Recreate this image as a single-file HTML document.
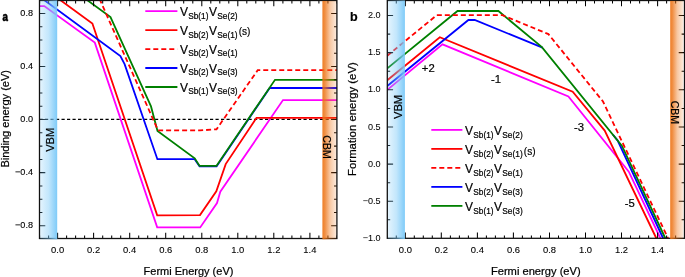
<!DOCTYPE html>
<html><head><meta charset="utf-8"><style>
html,body{margin:0;padding:0;background:#fff;}
svg{display:block;will-change:transform;}
text{font-family:"Liberation Sans",sans-serif;fill:#000;stroke:#000;stroke-width:0.2px;}
</style></head><body>
<svg width="685" height="277" viewBox="0 0 685 277">
<defs>
<linearGradient id="vbm" x1="0" y1="0" x2="1" y2="0">
<stop offset="0" stop-color="#78c8f8" stop-opacity="0.2"/>
<stop offset="0.5" stop-color="#78c8f8" stop-opacity="0.45"/>
<stop offset="0.8" stop-color="#78c8f8" stop-opacity="0.75"/>
<stop offset="1" stop-color="#78c8f8" stop-opacity="0.95"/>
</linearGradient>
<linearGradient id="cbm" x1="0" y1="0" x2="1" y2="0">
<stop offset="0" stop-color="#ed7314" stop-opacity="0.92"/>
<stop offset="0.18" stop-color="#ed7314" stop-opacity="0.8"/>
<stop offset="0.55" stop-color="#ed7314" stop-opacity="0.4"/>
<stop offset="1" stop-color="#ed7314" stop-opacity="0.15"/>
</linearGradient>
<clipPath id="ca"><rect x="39.5" y="0.5" width="297.4" height="238.0"/></clipPath>
<clipPath id="cb"><rect x="387.3" y="0.5" width="297.2" height="237.8"/></clipPath>
</defs>
<rect width="685" height="277" fill="#fff"/>

<g clip-path="url(#ca)">
<line x1="39.5" y1="119.4" x2="336.9" y2="119.4" stroke="#000" stroke-width="1.2" stroke-dasharray="3.2,2.3"/>
<polyline points="39.5,6.1 44.3,6.1 94.8,42.6 157.2,227.4 200.2,227.4 217.0,203.1 220.3,191.7 283.0,100.1 337.0,100.1" fill="none" stroke="#ff00ff" stroke-width="1.8" stroke-linejoin="miter"/>
<polyline points="39.5,-15.1 60.2,0.0 92.4,23.5 157.2,215.3 200.0,215.1 216.3,191.3 225.7,164.1 256.5,117.8 337.0,117.8" fill="none" stroke="#ff0000" stroke-width="1.8" stroke-linejoin="miter"/>
<polyline points="39.5,-3.4 120.4,56.1 124.6,64.2 157.4,159.2 194.7,159.2 199.6,166.4 216.6,166.4 269.7,88.0 337.0,88.0" fill="none" stroke="#0000ff" stroke-width="1.8" stroke-linejoin="miter"/>
<polyline points="47.0,-29.2 110.5,17.1 151.0,106.4 157.5,131.0 194.7,158.3 199.6,165.9 216.4,165.9 275.0,79.8 337.0,79.8" fill="none" stroke="#008000" stroke-width="1.8" stroke-linejoin="miter"/>
<polyline points="80.0,-45.0 100.0,0.0 158.0,130.3 200.0,130.4 216.5,129.3 257.7,70.2 337.0,70.2" fill="none" stroke="#ff0000" stroke-width="1.8" stroke-linejoin="miter" stroke-dasharray="5,3"/>
<path d="M39.6,238.5v-2.9 M39.6,0.5v2.9 M48.6,238.5v-2.9 M48.6,0.5v2.9 M57.6,238.5v-5.8 M57.6,0.5v5.8 M66.6,238.5v-2.9 M66.6,0.5v2.9 M75.6,238.5v-2.9 M75.6,0.5v2.9 M84.6,238.5v-2.9 M84.6,0.5v2.9 M93.6,238.5v-5.8 M93.6,0.5v5.8 M102.7,238.5v-2.9 M102.7,0.5v2.9 M111.7,238.5v-2.9 M111.7,0.5v2.9 M120.7,238.5v-2.9 M120.7,0.5v2.9 M129.7,238.5v-5.8 M129.7,0.5v5.8 M138.7,238.5v-2.9 M138.7,0.5v2.9 M147.7,238.5v-2.9 M147.7,0.5v2.9 M156.7,238.5v-2.9 M156.7,0.5v2.9 M165.7,238.5v-5.8 M165.7,0.5v5.8 M174.7,238.5v-2.9 M174.7,0.5v2.9 M183.7,238.5v-2.9 M183.7,0.5v2.9 M192.8,238.5v-2.9 M192.8,0.5v2.9 M201.8,238.5v-5.8 M201.8,0.5v5.8 M210.8,238.5v-2.9 M210.8,0.5v2.9 M219.8,238.5v-2.9 M219.8,0.5v2.9 M228.8,238.5v-2.9 M228.8,0.5v2.9 M237.8,238.5v-5.8 M237.8,0.5v5.8 M246.8,238.5v-2.9 M246.8,0.5v2.9 M255.8,238.5v-2.9 M255.8,0.5v2.9 M264.8,238.5v-2.9 M264.8,0.5v2.9 M273.8,238.5v-5.8 M273.8,0.5v5.8 M282.9,238.5v-2.9 M282.9,0.5v2.9 M291.9,238.5v-2.9 M291.9,0.5v2.9 M300.9,238.5v-2.9 M300.9,0.5v2.9 M309.9,238.5v-5.8 M309.9,0.5v5.8 M318.9,238.5v-2.9 M318.9,0.5v2.9 M327.9,238.5v-2.9 M327.9,0.5v2.9 M336.9,238.5v-2.9 M336.9,0.5v2.9 M39.5,239.0h2.9 M336.9,239.0h-2.9 M39.5,225.7h5.8 M336.9,225.7h-5.8 M39.5,212.4h2.9 M336.9,212.4h-2.9 M39.5,199.2h2.9 M336.9,199.2h-2.9 M39.5,185.9h2.9 M336.9,185.9h-2.9 M39.5,172.6h5.8 M336.9,172.6h-5.8 M39.5,159.4h2.9 M336.9,159.4h-2.9 M39.5,146.1h2.9 M336.9,146.1h-2.9 M39.5,132.8h2.9 M336.9,132.8h-2.9 M39.5,119.5h5.8 M336.9,119.5h-5.8 M39.5,106.3h2.9 M336.9,106.3h-2.9 M39.5,93.0h2.9 M336.9,93.0h-2.9 M39.5,79.7h2.9 M336.9,79.7h-2.9 M39.5,66.5h5.8 M336.9,66.5h-5.8 M39.5,53.2h2.9 M336.9,53.2h-2.9 M39.5,39.9h2.9 M336.9,39.9h-2.9 M39.5,26.7h2.9 M336.9,26.7h-2.9 M39.5,13.4h5.8 M336.9,13.4h-5.8 M39.5,0.1h2.9 M336.9,0.1h-2.9" stroke="#000" stroke-width="1.05" fill="none"/>
</g>
<g clip-path="url(#cb)">
<polyline points="387.3,89.9 442.5,44.4 568.4,96.4 628.8,171.7 660.3,238.0 670.0,258.0" fill="none" stroke="#ff00ff" stroke-width="1.8" stroke-linejoin="miter"/>
<polyline points="387.3,80.2 439.8,37.2 572.7,91.7 604.7,130.6 656.2,238.0 666.0,258.0" fill="none" stroke="#ff0000" stroke-width="1.8" stroke-linejoin="miter"/>
<polyline points="387.3,86.0 468.4,20.0 474.7,20.0 542.5,47.6" fill="none" stroke="#0000ff" stroke-width="1.8" stroke-linejoin="miter"/>
<polyline points="613.0,134.8 617.7,140.6 663.0,238.0 672.0,258.0" fill="none" stroke="#0000ff" stroke-width="1.8" stroke-linejoin="miter"/>
<polyline points="387.3,68.3 457.5,11.0 498.4,11.0 541.9,47.1 622.0,145.9 665.2,238.0 675.0,258.0" fill="none" stroke="#008000" stroke-width="1.8" stroke-linejoin="miter"/>
<polyline points="387.3,55.7 436.7,15.2 502.4,15.2 548.4,34.1 603.0,101.5 667.9,238.0 678.0,258.0" fill="none" stroke="#ff0000" stroke-width="1.8" stroke-linejoin="miter" stroke-dasharray="5,3"/>
<path d="M387.3,238.3v-2.9 M387.3,0.5v2.9 M396.3,238.3v-2.9 M396.3,0.5v2.9 M405.3,238.3v-5.8 M405.3,0.5v5.8 M414.3,238.3v-2.9 M414.3,0.5v2.9 M423.3,238.3v-2.9 M423.3,0.5v2.9 M432.3,238.3v-2.9 M432.3,0.5v2.9 M441.3,238.3v-5.8 M441.3,0.5v5.8 M450.4,238.3v-2.9 M450.4,0.5v2.9 M459.4,238.3v-2.9 M459.4,0.5v2.9 M468.4,238.3v-2.9 M468.4,0.5v2.9 M477.4,238.3v-5.8 M477.4,0.5v5.8 M486.4,238.3v-2.9 M486.4,0.5v2.9 M495.4,238.3v-2.9 M495.4,0.5v2.9 M504.4,238.3v-2.9 M504.4,0.5v2.9 M513.4,238.3v-5.8 M513.4,0.5v5.8 M522.4,238.3v-2.9 M522.4,0.5v2.9 M531.4,238.3v-2.9 M531.4,0.5v2.9 M540.5,238.3v-2.9 M540.5,0.5v2.9 M549.5,238.3v-5.8 M549.5,0.5v5.8 M558.5,238.3v-2.9 M558.5,0.5v2.9 M567.5,238.3v-2.9 M567.5,0.5v2.9 M576.5,238.3v-2.9 M576.5,0.5v2.9 M585.5,238.3v-5.8 M585.5,0.5v5.8 M594.5,238.3v-2.9 M594.5,0.5v2.9 M603.5,238.3v-2.9 M603.5,0.5v2.9 M612.5,238.3v-2.9 M612.5,0.5v2.9 M621.5,238.3v-5.8 M621.5,0.5v5.8 M630.5,238.3v-2.9 M630.5,0.5v2.9 M639.6,238.3v-2.9 M639.6,0.5v2.9 M648.6,238.3v-2.9 M648.6,0.5v2.9 M657.6,238.3v-5.8 M657.6,0.5v5.8 M666.6,238.3v-2.9 M666.6,0.5v2.9 M675.6,238.3v-2.9 M675.6,0.5v2.9 M684.6,238.3v-2.9 M684.6,0.5v2.9 M387.3,238.4h5.8 M684.5,238.4h-5.8 M387.3,219.8h2.9 M684.5,219.8h-2.9 M387.3,201.2h5.8 M684.5,201.2h-5.8 M387.3,182.7h2.9 M684.5,182.7h-2.9 M387.3,164.1h5.8 M684.5,164.1h-5.8 M387.3,145.5h2.9 M684.5,145.5h-2.9 M387.3,126.9h5.8 M684.5,126.9h-5.8 M387.3,108.4h2.9 M684.5,108.4h-2.9 M387.3,89.8h5.8 M684.5,89.8h-5.8 M387.3,71.2h2.9 M684.5,71.2h-2.9 M387.3,52.6h5.8 M684.5,52.6h-5.8 M387.3,34.1h2.9 M684.5,34.1h-2.9 M387.3,15.5h5.8 M684.5,15.5h-5.8 M387.3,-3.1h2.9 M684.5,-3.1h-2.9" stroke="#000" stroke-width="1.05" fill="none"/>
</g>
<rect x="39.5" y="0.5" width="297.4" height="238.0" fill="none" stroke="#111" stroke-width="1.3"/>
<rect x="387.3" y="0.5" width="297.2" height="237.8" fill="none" stroke="#111" stroke-width="1.3"/>
<rect x="40.1" y="0.4" width="17.1" height="238.9" fill="url(#vbm)"/>
<rect x="322.4" y="0.9" width="13.8" height="238.4" fill="url(#cbm)"/>
<rect x="388.0" y="0.4" width="16.9" height="238.7" fill="url(#vbm)"/>
<rect x="670.2" y="0.9" width="13.0" height="238.2" fill="url(#cbm)"/>
<text x="33" y="15.5" font-size="9.1" text-anchor="end" style="stroke-width:0.12px">0.8</text>
<text x="33" y="68.6" font-size="9.1" text-anchor="end" style="stroke-width:0.12px">0.4</text>
<text x="33" y="121.7" font-size="9.1" text-anchor="end" style="stroke-width:0.12px">0.0</text>
<text x="33" y="174.8" font-size="9.1" text-anchor="end" style="stroke-width:0.12px">−0.4</text>
<text x="33" y="227.9" font-size="9.1" text-anchor="end" style="stroke-width:0.12px">−0.8</text>
<text x="380.6" y="18.1" font-size="9.1" text-anchor="end" style="stroke-width:0.05px">2.0</text>
<text x="380.6" y="55.2" font-size="9.1" text-anchor="end" style="stroke-width:0.05px">1.5</text>
<text x="380.6" y="92.4" font-size="9.1" text-anchor="end" style="stroke-width:0.05px">1.0</text>
<text x="380.6" y="129.5" font-size="9.1" text-anchor="end" style="stroke-width:0.05px">0.5</text>
<text x="380.6" y="166.7" font-size="9.1" text-anchor="end" style="stroke-width:0.05px">0.0</text>
<text x="380.6" y="203.8" font-size="9.1" text-anchor="end" style="stroke-width:0.05px">−0.5</text>
<text x="380.6" y="241.0" font-size="9.1" text-anchor="end" style="stroke-width:0.05px">−1.0</text>
<text x="51.1" y="252.9" font-size="9.8" textLength="13.1" lengthAdjust="spacingAndGlyphs" style="stroke-width:0.1px">0.0</text>
<text x="398.8" y="252.9" font-size="9.8" textLength="13.1" lengthAdjust="spacingAndGlyphs" style="stroke-width:0.1px">0.0</text>
<text x="87.1" y="252.9" font-size="9.8" textLength="13.1" lengthAdjust="spacingAndGlyphs" style="stroke-width:0.1px">0.2</text>
<text x="434.8" y="252.9" font-size="9.8" textLength="13.1" lengthAdjust="spacingAndGlyphs" style="stroke-width:0.1px">0.2</text>
<text x="123.1" y="252.9" font-size="9.8" textLength="13.1" lengthAdjust="spacingAndGlyphs" style="stroke-width:0.1px">0.4</text>
<text x="470.8" y="252.9" font-size="9.8" textLength="13.1" lengthAdjust="spacingAndGlyphs" style="stroke-width:0.1px">0.4</text>
<text x="159.2" y="252.9" font-size="9.8" textLength="13.1" lengthAdjust="spacingAndGlyphs" style="stroke-width:0.1px">0.6</text>
<text x="506.9" y="252.9" font-size="9.8" textLength="13.1" lengthAdjust="spacingAndGlyphs" style="stroke-width:0.1px">0.6</text>
<text x="195.2" y="252.9" font-size="9.8" textLength="13.1" lengthAdjust="spacingAndGlyphs" style="stroke-width:0.1px">0.8</text>
<text x="542.9" y="252.9" font-size="9.8" textLength="13.1" lengthAdjust="spacingAndGlyphs" style="stroke-width:0.1px">0.8</text>
<text x="231.2" y="252.9" font-size="9.8" textLength="13.1" lengthAdjust="spacingAndGlyphs" style="stroke-width:0.1px">1.0</text>
<text x="579.0" y="252.9" font-size="9.8" textLength="13.1" lengthAdjust="spacingAndGlyphs" style="stroke-width:0.1px">1.0</text>
<text x="267.3" y="252.9" font-size="9.8" textLength="13.1" lengthAdjust="spacingAndGlyphs" style="stroke-width:0.1px">1.2</text>
<text x="615.0" y="252.9" font-size="9.8" textLength="13.1" lengthAdjust="spacingAndGlyphs" style="stroke-width:0.1px">1.2</text>
<text x="303.3" y="252.9" font-size="9.8" textLength="13.1" lengthAdjust="spacingAndGlyphs" style="stroke-width:0.1px">1.4</text>
<text x="651.0" y="252.9" font-size="9.8" textLength="13.1" lengthAdjust="spacingAndGlyphs" style="stroke-width:0.1px">1.4</text>
<text x="143.6" y="274.7" font-size="10.3" textLength="89.8" lengthAdjust="spacingAndGlyphs">Fermi Energy (eV)</text>
<text x="490.9" y="274.6" font-size="10.3" textLength="89.8" lengthAdjust="spacingAndGlyphs">Fermi energy (eV)</text>
<text transform="translate(9.0,167.6) rotate(-90)" font-size="10.3" textLength="97.6" lengthAdjust="spacingAndGlyphs">Binding energy (eV)</text>
<text transform="translate(355.8,175.9) rotate(-90)" font-size="10.3" textLength="113.7" lengthAdjust="spacingAndGlyphs">Formation energy (eV)</text>
<text x="2.6" y="20.7" font-size="12.5" font-weight="bold" textLength="5.4" lengthAdjust="spacingAndGlyphs" style="stroke-width:0.6px">a</text>
<text x="350" y="20.6" font-size="12.5" font-weight="bold" fill="#000">b</text>
<text transform="translate(53.9,151.8) rotate(-90)" font-size="10" textLength="24" lengthAdjust="spacingAndGlyphs">VBM</text>
<text transform="translate(323.4,135.3) rotate(90)" font-size="10" textLength="23.4" lengthAdjust="spacingAndGlyphs">CBM</text>
<text transform="translate(402.4,119.1) rotate(-90)" font-size="10" textLength="24.3" lengthAdjust="spacingAndGlyphs">VBM</text>
<text transform="translate(670.9,100.7) rotate(90)" font-size="10" textLength="23.4" lengthAdjust="spacingAndGlyphs">CBM</text>
<text x="421.8" y="72.2" font-size="11.3">+2</text>
<text x="491" y="82.7" font-size="11.3">-1</text>
<text x="574" y="131.1" font-size="11.3">-3</text>
<text x="624.8" y="206.9" font-size="11.3">-5</text>
<line x1="145.3" y1="11.2" x2="177.4" y2="11.2" stroke="#ff00ff" stroke-width="1.8"/>
<text x="179.9" y="15.8" font-size="12" fill="#000">V</text>
<text x="188.2" y="18.5" font-size="8.2" textLength="20.2" lengthAdjust="spacingAndGlyphs" fill="#000">Sb(1)</text>
<text x="208.9" y="15.8" font-size="12" fill="#000">V</text>
<text x="217.2" y="18.5" font-size="8.2" textLength="20.4" lengthAdjust="spacingAndGlyphs" fill="#000">Se(2)</text>
<line x1="145.3" y1="30.1" x2="177.4" y2="30.1" stroke="#ff0000" stroke-width="1.8"/>
<text x="179.9" y="34.8" font-size="12" fill="#000">V</text>
<text x="188.2" y="37.5" font-size="8.2" textLength="20.2" lengthAdjust="spacingAndGlyphs" fill="#000">Sb(2)</text>
<text x="208.9" y="34.8" font-size="12" fill="#000">V</text>
<text x="217.2" y="37.5" font-size="8.2" textLength="20.4" lengthAdjust="spacingAndGlyphs" fill="#000">Se(1)</text>
<text x="238.7" y="35.4" font-size="11.6" textLength="11.8" lengthAdjust="spacingAndGlyphs" fill="#000">(s)</text>
<line x1="145.3" y1="49.1" x2="177.4" y2="49.1" stroke="#ff0000" stroke-width="1.8" stroke-dasharray="5,3"/>
<text x="179.9" y="53.7" font-size="12" fill="#000">V</text>
<text x="188.2" y="56.4" font-size="8.2" textLength="20.2" lengthAdjust="spacingAndGlyphs" fill="#000">Sb(2)</text>
<text x="208.9" y="53.7" font-size="12" fill="#000">V</text>
<text x="217.2" y="56.4" font-size="8.2" textLength="20.4" lengthAdjust="spacingAndGlyphs" fill="#000">Se(1)</text>
<line x1="145.3" y1="68.0" x2="177.4" y2="68.0" stroke="#0000ff" stroke-width="1.8"/>
<text x="179.9" y="72.6" font-size="12" fill="#000">V</text>
<text x="188.2" y="75.3" font-size="8.2" textLength="20.2" lengthAdjust="spacingAndGlyphs" fill="#000">Sb(2)</text>
<text x="208.9" y="72.6" font-size="12" fill="#000">V</text>
<text x="217.2" y="75.3" font-size="8.2" textLength="20.4" lengthAdjust="spacingAndGlyphs" fill="#000">Se(3)</text>
<line x1="145.3" y1="87.0" x2="177.4" y2="87.0" stroke="#008000" stroke-width="1.8"/>
<text x="179.9" y="91.6" font-size="12" fill="#000">V</text>
<text x="188.2" y="94.3" font-size="8.2" textLength="20.2" lengthAdjust="spacingAndGlyphs" fill="#000">Sb(1)</text>
<text x="208.9" y="91.6" font-size="12" fill="#000">V</text>
<text x="217.2" y="94.3" font-size="8.2" textLength="20.4" lengthAdjust="spacingAndGlyphs" fill="#000">Se(3)</text>
<line x1="431.3" y1="129.9" x2="462.4" y2="129.9" stroke="#ff00ff" stroke-width="1.8"/>
<text x="465.0" y="135.1" font-size="12" fill="#000">V</text>
<text x="473.3" y="137.8" font-size="8.2" textLength="20.2" lengthAdjust="spacingAndGlyphs" fill="#000">Sb(1)</text>
<text x="494.0" y="135.1" font-size="12" fill="#000">V</text>
<text x="502.3" y="137.8" font-size="8.2" textLength="20.4" lengthAdjust="spacingAndGlyphs" fill="#000">Se(2)</text>
<line x1="431.3" y1="148.9" x2="462.4" y2="148.9" stroke="#ff0000" stroke-width="1.8"/>
<text x="465.0" y="154.1" font-size="12" fill="#000">V</text>
<text x="473.3" y="156.8" font-size="8.2" textLength="20.2" lengthAdjust="spacingAndGlyphs" fill="#000">Sb(2)</text>
<text x="494.0" y="154.1" font-size="12" fill="#000">V</text>
<text x="502.3" y="156.8" font-size="8.2" textLength="20.4" lengthAdjust="spacingAndGlyphs" fill="#000">Se(1)</text>
<text x="523.8" y="154.7" font-size="11.6" textLength="11.8" lengthAdjust="spacingAndGlyphs" fill="#000">(s)</text>
<line x1="431.3" y1="167.9" x2="462.4" y2="167.9" stroke="#ff0000" stroke-width="1.8" stroke-dasharray="5,3"/>
<text x="465.0" y="173.1" font-size="12" fill="#000">V</text>
<text x="473.3" y="175.8" font-size="8.2" textLength="20.2" lengthAdjust="spacingAndGlyphs" fill="#000">Sb(2)</text>
<text x="494.0" y="173.1" font-size="12" fill="#000">V</text>
<text x="502.3" y="175.8" font-size="8.2" textLength="20.4" lengthAdjust="spacingAndGlyphs" fill="#000">Se(1)</text>
<line x1="431.3" y1="186.9" x2="462.4" y2="186.9" stroke="#0000ff" stroke-width="1.8"/>
<text x="465.0" y="192.1" font-size="12" fill="#000">V</text>
<text x="473.3" y="194.8" font-size="8.2" textLength="20.2" lengthAdjust="spacingAndGlyphs" fill="#000">Sb(2)</text>
<text x="494.0" y="192.1" font-size="12" fill="#000">V</text>
<text x="502.3" y="194.8" font-size="8.2" textLength="20.4" lengthAdjust="spacingAndGlyphs" fill="#000">Se(3)</text>
<line x1="431.3" y1="205.9" x2="462.4" y2="205.9" stroke="#008000" stroke-width="1.8"/>
<text x="465.0" y="211.1" font-size="12" fill="#000">V</text>
<text x="473.3" y="213.8" font-size="8.2" textLength="20.2" lengthAdjust="spacingAndGlyphs" fill="#000">Sb(1)</text>
<text x="494.0" y="211.1" font-size="12" fill="#000">V</text>
<text x="502.3" y="213.8" font-size="8.2" textLength="20.4" lengthAdjust="spacingAndGlyphs" fill="#000">Se(3)</text>
</svg></body></html>
